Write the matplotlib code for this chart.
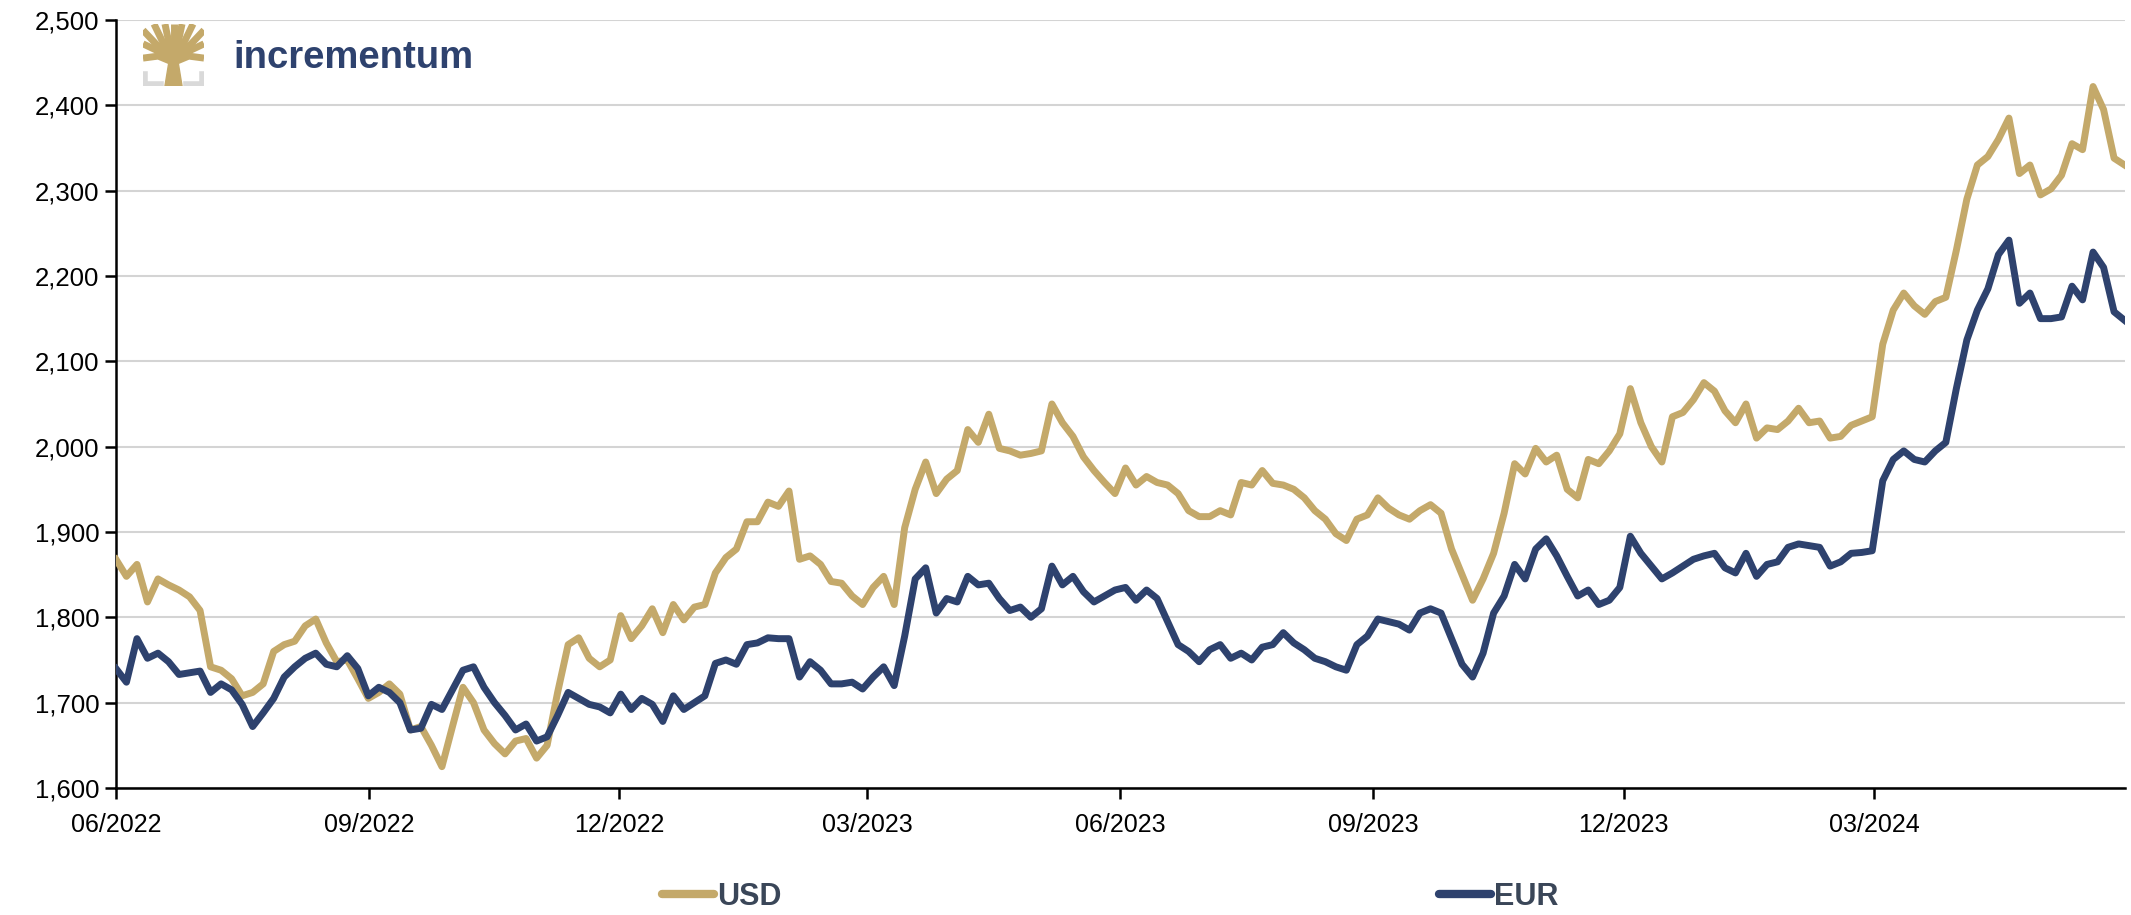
import numpy as np
import pandas as pd
import matplotlib.pyplot as plt
import matplotlib.dates as mdates
import matplotlib.ticker as mticker
from matplotlib.patches import Polygon

# Gold price in USD and EUR, Jun 2022 - May 2024 (8 readings per month)
usd = [
    1868, 1848, 1862, 1818, 1845, 1838, 1832, 1824,  # 06/2022
    1808, 1742, 1738, 1728, 1708, 1712, 1722, 1760,  # 07/2022
    1768, 1772, 1790, 1798, 1770, 1748, 1750, 1728,  # 08/2022
    1705, 1712, 1722, 1710, 1668, 1672, 1650, 1625,  # 09/2022
    1672, 1718, 1700, 1668, 1652, 1640, 1655, 1658,  # 10/2022
    1635, 1650, 1712, 1768, 1776, 1752, 1742, 1750,  # 11/2022
    1802, 1775, 1790, 1810, 1782, 1815, 1797, 1812,  # 12/2022
    1815, 1852, 1870, 1880, 1912, 1912, 1935, 1930,  # 01/2023
    1948, 1868, 1872, 1862, 1842, 1840, 1825, 1815,  # 02/2023
    1835, 1848, 1815, 1905, 1950, 1982, 1945, 1962,  # 03/2023
    1972, 2020, 2005, 2038, 1998, 1995, 1990, 1992,  # 04/2023
    1995, 2050, 2028, 2012, 1988, 1972, 1958, 1945,  # 05/2023
    1975, 1955, 1965, 1958, 1955, 1945, 1925, 1918,  # 06/2023
    1918, 1925, 1920, 1958, 1955, 1972, 1957, 1955,  # 07/2023
    1950, 1940, 1925, 1915, 1898, 1890, 1915, 1920,  # 08/2023
    1940, 1928, 1920, 1915, 1925, 1932, 1922, 1880,  # 09/2023
    1850, 1820, 1845, 1875, 1922, 1980, 1968, 1998,  # 10/2023
    1982, 1990, 1950, 1940, 1985, 1980, 1995, 2015,  # 11/2023
    2068, 2028, 2000, 1982, 2035, 2040, 2055, 2075,  # 12/2023
    2065, 2042, 2028, 2050, 2010, 2022, 2020, 2030,  # 01/2024
    2045, 2028, 2030, 2010, 2012, 2025, 2030, 2035,  # 02/2024
    2120, 2160, 2180, 2165, 2155, 2170, 2175, 2230,  # 03/2024
    2290, 2330, 2340, 2360, 2385, 2320, 2330, 2295,  # 04/2024
    2302, 2318, 2355, 2348, 2422, 2395, 2338, 2330,  # 05/2024
]
eur = [
    1740, 1724, 1775, 1752, 1758, 1748, 1733, 1735,  # 06/2022
    1737, 1712, 1722, 1715, 1698, 1672, 1688, 1705,  # 07/2022
    1730, 1742, 1752, 1758, 1745, 1742, 1755, 1740,  # 08/2022
    1708, 1718, 1712, 1700, 1668, 1670, 1698, 1692,  # 09/2022
    1715, 1738, 1742, 1718, 1700, 1685, 1668, 1675,  # 10/2022
    1655, 1660, 1685, 1712, 1705, 1698, 1695, 1688,  # 11/2022
    1710, 1692, 1705, 1698, 1678, 1708, 1692, 1700,  # 12/2022
    1708, 1746, 1750, 1745, 1768, 1770, 1776, 1775,  # 01/2023
    1775, 1730, 1748, 1738, 1722, 1722, 1724, 1716,  # 02/2023
    1730, 1742, 1720, 1778, 1845, 1858, 1805, 1822,  # 03/2023
    1818, 1848, 1838, 1840, 1822, 1808, 1812, 1800,  # 04/2023
    1810, 1860, 1838, 1848, 1830, 1818, 1825, 1832,  # 05/2023
    1835, 1820, 1832, 1822, 1795, 1768, 1760, 1748,  # 06/2023
    1762, 1768, 1752, 1758, 1750, 1765, 1768, 1782,  # 07/2023
    1770, 1762, 1752, 1748, 1742, 1738, 1768, 1778,  # 08/2023
    1798, 1795, 1792, 1785, 1805, 1810, 1805, 1775,  # 09/2023
    1745, 1730, 1758, 1805, 1825, 1862, 1845, 1880,  # 10/2023
    1892, 1872, 1848, 1825, 1832, 1815, 1820, 1835,  # 11/2023
    1895, 1875, 1860, 1845, 1852, 1860, 1868, 1872,  # 12/2023
    1875, 1858, 1852, 1875, 1848, 1862, 1865, 1882,  # 01/2024
    1886, 1884, 1882, 1860, 1865, 1875, 1876, 1878,  # 02/2024
    1960, 1985, 1995, 1985, 1982, 1995, 2005, 2068,  # 03/2024
    2125, 2160, 2185, 2225, 2242, 2168, 2180, 2150,  # 04/2024
    2150, 2152, 2188, 2172, 2228, 2210, 2158, 2148,  # 05/2024
]
dates = pd.date_range('2022-06-01', '2024-05-31', periods=len(usd))
tick_dates = pd.date_range('2022-06-01', '2024-03-01', freq='3MS')

gold = '#C4A96A'
navy = '#2E426E'

plt.rcParams['font.family'] = ['Liberation Sans', 'DejaVu Sans']

fig = plt.figure(figsize=(21.31, 9.15), dpi=100)
ax = fig.add_axes([0.0544, 0.1388, 0.9426, 0.8394])

ax.plot(dates, usd, color=gold, lw=5, solid_joinstyle='round', label='USD', zorder=3)
ax.plot(dates, eur, color=navy, lw=5, solid_joinstyle='round', label='EUR', zorder=4)

ax.set_ylim(1600, 2500)
ax.set_xlim(dates[0], dates[-1])
ax.yaxis.set_major_locator(mticker.MultipleLocator(100))
ax.yaxis.set_major_formatter(mticker.FuncFormatter(lambda v, p: f'{v:,.0f}'))
ax.set_xticks(tick_dates)
ax.xaxis.set_major_formatter(mdates.DateFormatter('%m/%Y'))

ax.grid(axis='y', color='#D4D4D4', lw=1.5)
ax.set_axisbelow(True)
for s in ['top', 'right']:
    ax.spines[s].set_visible(False)
for s in ['left', 'bottom']:
    ax.spines[s].set_color('black')
    ax.spines[s].set_linewidth(1.8)
ax.tick_params(axis='y', length=8, width=1.8, pad=4, labelsize=18.5)
ax.tick_params(axis='x', length=8, width=1.8, pad=10, labelsize=18)

# legend below the chart
leg = fig.legend(loc='center', bbox_to_anchor=(0.521, 0.02), ncol=2, frameon=False,
                 handlelength=1.7, handletextpad=0.12, columnspacing=21.5,
                 prop={'family': ['Liberation Sans Narrow', 'Liberation Sans'],
                       'weight': 'bold', 'size': 22})
for t in leg.get_texts():
    t.set_color('#3A4658')
for h in leg.legend_handles:
    h.set_solid_capstyle('round')
    h.set_linewidth(6)

# incrementum logo
logo = fig.add_axes([143 / 2131, 1 - 86 / 915, 61 / 2131, 62 / 915])
logo.set_xlim(0, 1)
logo.set_ylim(0, 1)
logo.axis('off')
logo.add_patch(Polygon([[0.36, 0], [0.64, 0], [0.57, 0.42], [0.43, 0.42]], color=gold))
branches = [(0.0, 0.45), (0.0, 0.68), (0.0, 0.9), (0.18, 1.0), (0.36, 1.0),
            (0.5, 1.0), (0.64, 1.0), (0.82, 1.0), (1.0, 0.9), (1.0, 0.68), (1.0, 0.45)]
for bx, by in branches:
    logo.plot([0.5, (0.5 + bx) / 2, bx], [0.38, 0.5 + (by - 0.5) * 0.35, by],
              color=gold, lw=5, solid_capstyle='butt')
logo.plot([0.03, 0.03, 0.3], [0.2, 0.03, 0.03], color='#D9D9D9', lw=4)
logo.plot([0.97, 0.97, 0.7], [0.2, 0.03, 0.03], color='#D9D9D9', lw=4)
fig.text(233 / 2131, 1 - 58 / 915, 'incrementum', fontsize=27.5, fontweight='bold',
         color='#2E426E', va='center', ha='left')

fig.savefig('out.png', dpi=100)
